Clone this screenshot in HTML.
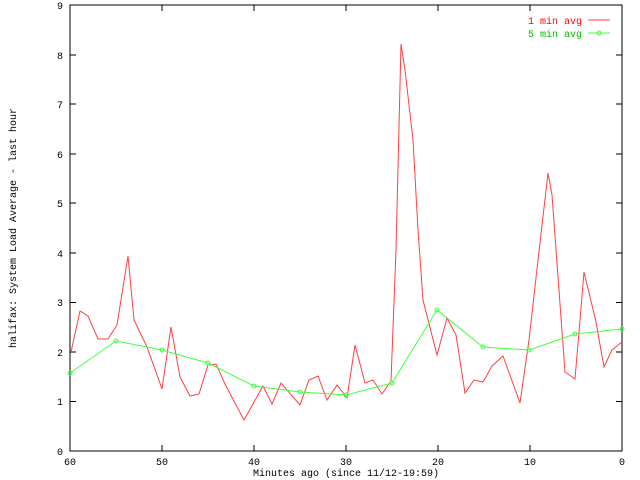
<!DOCTYPE html>
<html><head><style>body{margin:0;background:#fff}svg{display:block}text{font-family:"Liberation Mono",monospace;font-size:10px}</style></head><body>
<svg width="640" height="480" xmlns="http://www.w3.org/2000/svg">
<rect x="70" y="5" width="552" height="446" fill="none" stroke="#000" stroke-width="1"/>
<g stroke="#000">
<path d="M70 401.5h6M70 352h6M70 302.5h6M70 253h6M70 203h6M70 154h6M70 104h6M70 55h6M622 401.5h-6M622 352h-6M622 302.5h-6M622 253h-6M622 203h-6M622 154h-6M622 104h-6M622 55h-6"/>
<path d="M162 451v-6M254 451v-6M346 451v-6M438 451v-6M530 451v-6M162 5v6M254 5v6M346 5v6M438 5v6M530 5v6"/>
</g>
<g text-anchor="end">
<text x="63" y="455">0</text><text x="63" y="405">1</text><text x="63" y="356">2</text><text x="63" y="306">3</text><text x="63" y="257">4</text><text x="63" y="207">5</text><text x="63" y="158">6</text><text x="63" y="108">7</text><text x="63" y="59">8</text><text x="63" y="9">9</text>
</g>
<g text-anchor="middle">
<text x="70" y="465">60</text><text x="162" y="465">50</text><text x="254" y="465">40</text><text x="346" y="465">30</text><text x="438" y="465">20</text><text x="530" y="465">10</text><text x="622" y="465">0</text>
<text x="346" y="476">Minutes ago (since 11/12-19:59)</text>
<text transform="translate(16,228) rotate(-90)">halifax: System Load Average - last hour</text>
</g>
<text x="582" y="24" text-anchor="end" fill="#ff0000">1 min avg</text>
<text x="582" y="37" text-anchor="end" fill="#00c000">5 min avg</text>
<path d="M588 20h22" stroke="#ff4040"/>
<path d="M588 33h22" stroke="#40ff40"/>
<circle cx="599" cy="33" r="2" fill="none" stroke="#40ff40"/>
<polyline fill="none" stroke="#ff4040" points="71,352 80,311 88,316 98,339 108,339 117,325 128,256 134,320 147,347 162,389 171,327 180,377 190,396 199,394 208,365 216,364 225,384 244,420 263,386 272,404 281,383 300,405 309,380 318,376 327,400 337,385 347,398 355,345 365,383 373,380 382,394 391,381 396,250 401,44 405,70 409,105 413,140 418,230 423,300 437,355 447,318 456,335 465,393 474,380 483,382 492,366 503,356 520,403 529,340 538,260 548,173 552,195 565,372 575,379 584,272 596,322 604,367 612,350 622,342"/>
<polyline fill="none" stroke="#40ff40" points="70,373 116,341 162,350 208,363 254,386 300,392 346,395 392,383 437,310 483,347 529,350 575,334 622,329"/>
<g fill="none" stroke="#40ff40">
<circle cx="70" cy="373" r="2"/><circle cx="116" cy="341" r="2"/><circle cx="162" cy="350" r="2"/><circle cx="208" cy="363" r="2"/><circle cx="254" cy="386" r="2"/><circle cx="300" cy="392" r="2"/><circle cx="346" cy="395" r="2"/><circle cx="392" cy="383" r="2"/><circle cx="437" cy="310" r="2"/><circle cx="483" cy="347" r="2"/><circle cx="529" cy="350" r="2"/><circle cx="575" cy="334" r="2"/><circle cx="622" cy="329" r="2"/>
</g>
</svg>
</body></html>
